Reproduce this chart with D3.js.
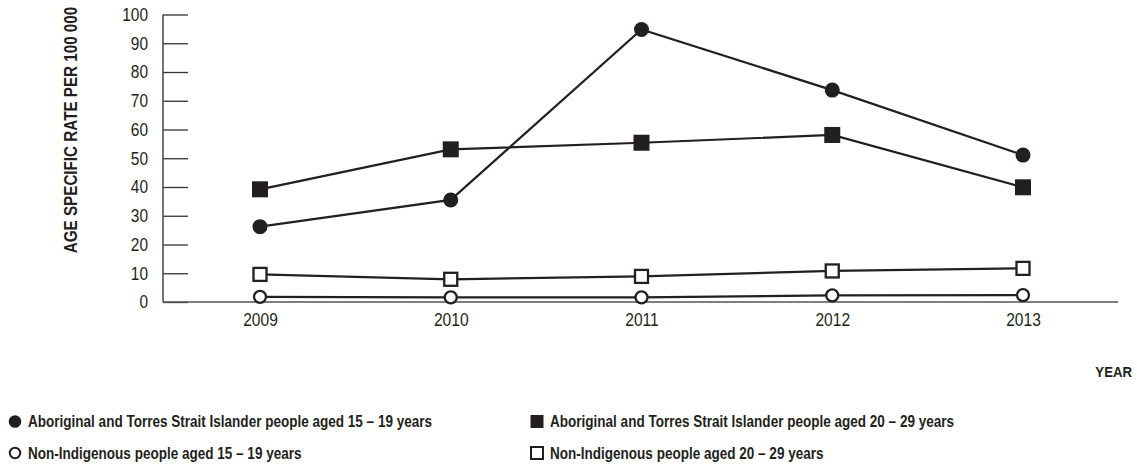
<!DOCTYPE html>
<html><head><meta charset="utf-8">
<script src="https://cdn.jsdelivr.net/npm/d3@7/dist/d3.min.js"></script>
<style>
body{margin:0;background:#fff;}
svg{display:block;font-family:"Liberation Sans",Arial,sans-serif;}
</style></head><body>
<svg id="c" width="1137" height="466"></svg>
<script>
const years = [2009, 2010, 2011, 2012, 2013];
const yTicks = [0,10,20,30,40,50,60,70,80,90,100];
const atsi1519 = [26.2, 35.5, 94.8, 73.7, 51.1];
const atsi2029 = [39.2, 53.1, 55.4, 58.1, 39.9];
const nonInd1519 = [1.8, 1.6, 1.6, 2.3, 2.4];
const nonInd2029 = [9.6, 7.9, 8.9, 10.8, 11.7];
const seriesNames = [
  "Aboriginal and Torres Strait Islander people aged 15 \u2013 19 years",
  "Aboriginal and Torres Strait Islander people aged 20 \u2013 29 years",
  "Non-Indigenous people aged 15 \u2013 19 years",
  "Non-Indigenous people aged 20 \u2013 29 years"
];
const yTitle = "AGE SPECIFIC RATE PER 100 000";
const xTitle = "YEAR";

const ink = "#231f20";
const narrow = 0.82;
const svg = d3.select("#c");
const x = d3.scaleLinear().domain([2009, 2013]).range([260, 1023]);
const y = d3.scaleLinear().domain([0, 100]).range([302, 14.5]);

// y axis ticks
const yAxis = d3.axisRight(y).tickValues(yTicks).tickSize(25).tickFormat("");
const gy = svg.append("g").attr("transform","translate(163,0)").call(yAxis);
gy.select(".domain").remove();
gy.selectAll(".tick line").attr("stroke", "#333").attr("stroke-width", 1.3);
svg.append("line").attr("x1",163).attr("x2",163).attr("y1",y(100)).attr("y2",y(0))
  .attr("stroke","#444").attr("stroke-width",1.5);
svg.append("g").selectAll("text").data(yTicks).join("text")
  .attr("transform",d=>`translate(148,${y(d)}) scale(0.86,1)`)
  .attr("dy","0.36em").attr("text-anchor","end")
  .attr("font-size",18).attr("fill",ink).text(d=>d);

// x axis baseline
svg.append("line").attr("x1",163).attr("x2",1118).attr("y1",y(0)).attr("y2",y(0))
  .attr("stroke","#555").attr("stroke-width",1.5);
const xAxis = d3.axisBottom(x).tickValues(years).tickSize(0).tickFormat(d3.format("d"));
const gx = svg.append("g").attr("transform",`translate(0,${y(0)})`).call(xAxis);
gx.select(".domain").remove();
gx.selectAll("text").attr("font-size",19).attr("fill",ink).attr("dy","0.36em").attr("y",17.5)
  .attr("transform","scale(0.82,1)")
  .attr("font-family","'Liberation Sans',Arial,sans-serif");

// titles
svg.append("text").attr("transform","translate(76.5,130) rotate(-90) scale(0.845,1)").attr("text-anchor","middle")
  .attr("font-size",18).attr("font-weight","bold").attr("fill",ink).text(yTitle);
svg.append("text").attr("transform","translate(1132,377) scale(0.88,1)").attr("text-anchor","end")
  .attr("font-size",15).attr("font-weight","bold").attr("fill",ink).text(xTitle);

const line = d3.line().x((d,i)=>x(years[i])).y(d=>y(d));
const series = [
  {v: nonInd1519, shape:"circle", fill:"#fff"},
  {v: nonInd2029, shape:"square", fill:"#fff"},
  {v: atsi2029, shape:"square", fill:ink},
  {v: atsi1519, shape:"circle", fill:ink}
];
series.forEach(s=>{
  svg.append("path").datum(s.v).attr("d",line).attr("fill","none").attr("stroke",ink).attr("stroke-width",2.2);
});
function drawMarker(g, s, cx, cy){
  if(s.shape==="circle"){
    if(s.fill===ink) g.append("circle").attr("cx",cx).attr("cy",cy).attr("r",7.5).attr("fill",ink);
    else g.append("circle").attr("cx",cx).attr("cy",cy).attr("r",6).attr("fill","#fff").attr("stroke",ink).attr("stroke-width",2.3);
  } else {
    if(s.fill===ink) g.append("rect").attr("x",cx-8).attr("y",cy-8).attr("width",16).attr("height",16).attr("fill",ink);
    else g.append("rect").attr("x",cx-6.5).attr("y",cy-6.5).attr("width",13).attr("height",13).attr("fill","#fff").attr("stroke",ink).attr("stroke-width",2.3);
  }
}
series.forEach(s=>{
  const g = svg.append("g");
  s.v.forEach((d,i)=>drawMarker(g, s, x(years[i]), y(d)));
});

// legend
const legendItems = [
  {name: seriesNames[0], shape:"circle", fill:ink, lx:15, ly:421.5},
  {name: seriesNames[1], shape:"square", fill:ink, lx:537, ly:421.5},
  {name: seriesNames[2], shape:"circle", fill:"#fff", lx:15, ly:453},
  {name: seriesNames[3], shape:"square", fill:"#fff", lx:537, ly:453}
];
const lg = svg.append("g");
legendItems.forEach(it=>{
  const g = lg.append("g");
  if(it.shape==="circle"){
    if(it.fill===ink) g.append("circle").attr("cx",it.lx).attr("cy",it.ly).attr("r",6.3).attr("fill",ink);
    else g.append("circle").attr("cx",it.lx).attr("cy",it.ly).attr("r",5.2).attr("fill","#fff").attr("stroke",ink).attr("stroke-width",2);
  } else {
    if(it.fill===ink) g.append("rect").attr("x",it.lx-6.5).attr("y",it.ly-6.5).attr("width",13).attr("height",13).attr("fill",ink);
    else g.append("rect").attr("x",it.lx-6).attr("y",it.ly-6).attr("width",12).attr("height",12).attr("fill","#fff").attr("stroke",ink).attr("stroke-width",2);
  }
  g.append("text").attr("transform",`translate(${it.lx+13},${it.ly}) scale(${narrow},1)`).attr("dy","0.36em")
    .attr("font-size",16.5).attr("font-weight","bold").attr("fill",ink).text(it.name);
});
</script>
</body></html>
